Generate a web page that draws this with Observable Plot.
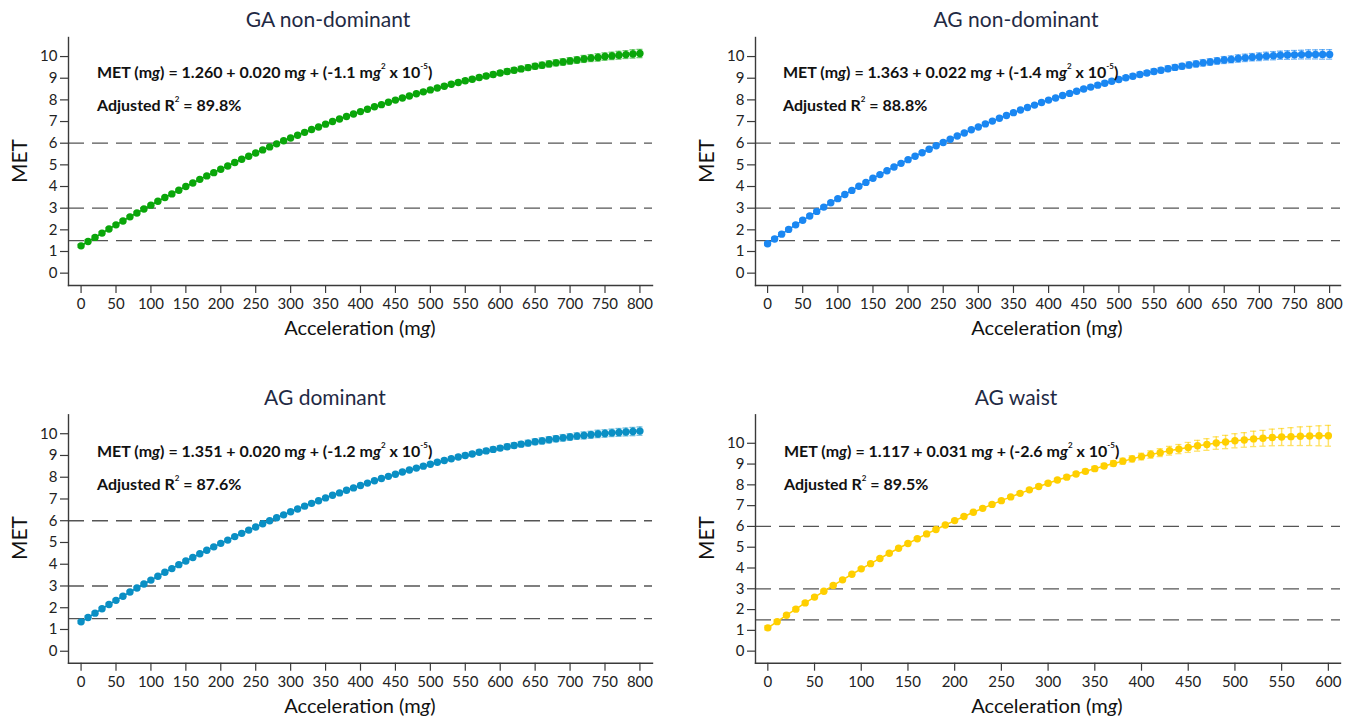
<!DOCTYPE html>
<html><head><meta charset="utf-8">
<script src="https://cdn.jsdelivr.net/npm/d3@7"></script>
<script src="https://cdn.jsdelivr.net/npm/@observablehq/plot@0.6"></script>
<style>
html,body{margin:0;padding:0;background:#fff;overflow:hidden;}
#root{position:relative;width:1352px;height:716px;font-family:Lato,"Open Sans",sans-serif;}
.svgwrap{position:absolute;}
.title{position:absolute;font-size:21px;line-height:26px;color:#1f2a44;transform:translateX(-50%);white-space:nowrap;}
.eq{position:absolute;font-size:16px;line-height:29px;font-weight:bold;color:#111;white-space:nowrap;}
.eq sup{font-size:8px;vertical-align:0;position:relative;top:-9px;}
.met{position:absolute;font-size:21px;line-height:24px;color:#111;transform:translate(-50%,-50%) rotate(-90deg);white-space:nowrap;}
.acc{position:absolute;font-size:20px;line-height:24px;color:#111;transform:translate(-50%,-50%);white-space:nowrap;}
</style></head>
<body><div id="root"></div>
<script>
// ---------- data ----------
const accel800 = [0,10,20,30,40,50,60,70,80,90,100,110,120,130,140,150,160,170,180,190,200,210,220,230,240,250,260,270,280,290,300,310,320,330,340,350,360,370,380,390,400,410,420,430,440,450,460,470,480,490,500,510,520,530,540,550,560,570,580,590,600,610,620,630,640,650,660,670,680,690,700,710,720,730,740,750,760,770,780,790,800];
const accel600 = [0,10,20,30,40,50,60,70,80,90,100,110,120,130,140,150,160,170,180,190,200,210,220,230,240,250,260,270,280,290,300,310,320,330,340,350,360,370,380,390,400,410,420,430,440,450,460,470,480,490,500,510,520,530,540,550,560,570,580,590,600];

const metGAnd = [1.26,1.46,1.65,1.85,2.04,2.23,2.41,2.60,2.78,2.96,
3.14,3.32,3.49,3.66,3.83,4.00,4.16,4.33,4.49,4.64,
4.80,4.95,5.11,5.26,5.40,5.55,5.69,5.83,5.97,6.11,
6.24,6.37,6.50,6.63,6.75,6.88,7.00,7.12,7.23,7.35,
7.46,7.57,7.68,7.78,7.89,7.99,8.09,8.18,8.28,8.37,
8.46,8.55,8.63,8.72,8.80,8.88,8.95,9.03,9.10,9.17,
9.24,9.31,9.37,9.43,9.49,9.55,9.60,9.66,9.71,9.75,
9.80,9.84,9.89,9.93,9.96,10.00,10.03,10.06,10.09,10.12,
10.14];
const metAGnd = [1.36,1.58,1.80,2.02,2.23,2.44,2.64,2.85,3.05,3.25,
3.44,3.63,3.82,4.01,4.19,4.38,4.55,4.73,4.90,5.07,
5.24,5.40,5.56,5.72,5.88,6.03,6.18,6.33,6.47,6.62,
6.75,6.89,7.02,7.15,7.28,7.41,7.53,7.65,7.76,7.88,
7.99,8.09,8.20,8.30,8.40,8.50,8.59,8.68,8.77,8.86,
8.94,9.02,9.09,9.17,9.24,9.31,9.37,9.44,9.50,9.55,
9.61,9.66,9.71,9.75,9.80,9.84,9.87,9.91,9.94,9.97,
9.99,10.02,10.04,10.06,10.07,10.08,10.09,10.10,10.10,10.10,
10.10];
const metAGd = [1.35,1.55,1.75,1.95,2.15,2.34,2.53,2.72,2.91,3.09,
3.27,3.45,3.63,3.80,3.98,4.15,4.31,4.48,4.64,4.80,
4.96,5.11,5.27,5.42,5.57,5.71,5.86,6.00,6.14,6.27,
6.41,6.54,6.67,6.80,6.92,7.05,7.17,7.28,7.40,7.51,
7.62,7.73,7.84,7.94,8.04,8.14,8.24,8.33,8.42,8.51,
8.60,8.69,8.77,8.85,8.93,9.00,9.07,9.15,9.21,9.28,
9.34,9.40,9.46,9.52,9.57,9.63,9.67,9.72,9.77,9.81,
9.85,9.89,9.92,9.95,9.99,10.01,10.04,10.06,10.08,10.10,
10.12];
const metAGwaist = [1.12,1.42,1.73,2.02,2.32,2.60,2.88,3.16,3.43,3.70,
3.96,4.21,4.46,4.71,4.95,5.18,5.41,5.64,5.85,6.07,
6.28,6.48,6.68,6.87,7.06,7.24,7.42,7.59,7.76,7.92,
8.08,8.23,8.37,8.52,8.65,8.78,8.91,9.03,9.14,9.25,
9.36,9.46,9.55,9.64,9.72,9.80,9.88,9.94,10.01,10.06,
10.12,10.16,10.21,10.24,10.28,10.30,10.32,10.34,10.35,10.36,
10.36];

const errGAnd = [0.07,0.07,0.06,0.06,0.06,0.05,0.05,0.05,0.05,0.04,
0.04,0.04,0.04,0.04,0.04,0.04,0.04,0.04,0.04,0.04,
0.04,0.04,0.04,0.04,0.04,0.04,0.04,0.04,0.04,0.04,
0.04,0.04,0.04,0.04,0.05,0.05,0.05,0.05,0.05,0.05,
0.05,0.06,0.06,0.06,0.06,0.07,0.07,0.07,0.07,0.08,
0.08,0.08,0.09,0.09,0.09,0.10,0.10,0.10,0.11,0.11,
0.11,0.12,0.12,0.12,0.13,0.13,0.14,0.14,0.14,0.15,
0.15,0.15,0.16,0.16,0.17,0.17,0.17,0.18,0.18,0.19,
0.19];
const errAGnd = [0.08,0.07,0.07,0.06,0.06,0.06,0.05,0.05,0.05,0.05,
0.05,0.05,0.04,0.04,0.04,0.04,0.04,0.04,0.04,0.04,
0.04,0.04,0.04,0.04,0.04,0.04,0.04,0.05,0.05,0.05,
0.05,0.05,0.05,0.05,0.05,0.06,0.06,0.06,0.06,0.07,
0.07,0.07,0.07,0.08,0.08,0.08,0.09,0.09,0.09,0.10,
0.10,0.10,0.11,0.11,0.11,0.12,0.12,0.13,0.13,0.13,
0.14,0.14,0.15,0.15,0.15,0.16,0.16,0.17,0.17,0.17,
0.18,0.18,0.19,0.19,0.20,0.20,0.20,0.21,0.21,0.22,
0.22];
const errAGd = [0.07,0.07,0.06,0.06,0.06,0.05,0.05,0.05,0.05,0.04,
0.04,0.04,0.04,0.04,0.04,0.04,0.04,0.04,0.04,0.04,
0.04,0.04,0.04,0.04,0.04,0.04,0.04,0.04,0.04,0.04,
0.04,0.04,0.04,0.04,0.05,0.05,0.05,0.05,0.05,0.05,
0.05,0.06,0.06,0.06,0.06,0.07,0.07,0.07,0.07,0.08,
0.08,0.08,0.09,0.09,0.09,0.10,0.10,0.10,0.11,0.11,
0.11,0.12,0.12,0.12,0.13,0.13,0.14,0.14,0.14,0.15,
0.15,0.15,0.16,0.16,0.17,0.17,0.17,0.18,0.18,0.19,
0.19];
const errAGwaist = [0.10,0.09,0.08,0.08,0.07,0.07,0.06,0.06,0.06,0.05,
0.05,0.05,0.05,0.05,0.05,0.05,0.05,0.05,0.05,0.05,
0.05,0.05,0.05,0.06,0.06,0.06,0.06,0.07,0.07,0.08,
0.08,0.08,0.09,0.09,0.10,0.11,0.12,0.13,0.14,0.15,
0.16,0.18,0.19,0.21,0.22,0.24,0.26,0.28,0.30,0.32,
0.34,0.35,0.37,0.38,0.40,0.41,0.43,0.45,0.46,0.48,
0.50];

const xTicks800 = [0,50,100,150,200,250,300,350,400,450,500,550,600,650,700,750,800];
const xTicks600 = [0,50,100,150,200,250,300,350,400,450,500,550,600];
const yTicks = [0,1,2,3,4,5,6,7,8,9,10];
const refLines = [1.5,3,6];

const titles = ["GA non-dominant","AG non-dominant","AG dominant","AG waist"];
const intercepts = ["1.260","1.363","1.351","1.117"];
const linearTerms = ["0.020","0.022","0.020","0.031"];
const quadTerms = ["-1.1","-1.4","-1.2","-2.6"];
const adjR2 = ["89.8%","88.8%","87.6%","89.5%"];
const colors = ["#0aa60a","#1a87f2","#0a8fc4","#ffcf00"];

// ---------- layout ----------
const layouts = [
  {left:0,  top:0,   w:676,h:378,mt:37,  mb:93,  ml:68,mr:24,xd:[-18,818],   yd:[-0.57,10.88],cap:4.3,titleX:328, titleY:6,  eqX:97, eqY:57, metX:19, metY:161,accX:360, accY:327},
  {left:676,top:0,   w:676,h:378,mt:37,  mb:93,  ml:79,mr:12,xd:[-17.2,815.5],yd:[-0.57,10.88],cap:4.3,titleX:1016,titleY:6,  eqX:783,eqY:57, metX:706,metY:161,accX:1047,accY:327},
  {left:0,  top:378, w:676,h:338,mt:36.3,mb:53.3,ml:68,mr:24,xd:[-18,818],   yd:[-0.55,10.87],cap:4.3,titleX:325, titleY:384,eqX:97, eqY:436,metX:19, metY:538,accX:360, accY:705},
  {left:676,top:378, w:676,h:338,mt:36.3,mb:53.3,ml:79,mr:12,xd:[-13.2,613], yd:[-0.58,11.37],cap:3.3,titleX:1016,titleY:384,eqX:784,eqY:436,metX:706,metY:538,accX:1047,accY:705}
];
const series = [
  {x:accel800,y:metGAnd,   e:errGAnd,   ticks:xTicks800},
  {x:accel800,y:metAGnd,   e:errAGnd,   ticks:xTicks800},
  {x:accel800,y:metAGd,    e:errAGd,    ticks:xTicks800},
  {x:accel600,y:metAGwaist,e:errAGwaist,ticks:xTicks600}
];

const root = document.getElementById("root");
function addDiv(cls, html, x, y){
  const d = document.createElement("div");
  d.className = cls; d.innerHTML = html;
  d.style.left = x + "px"; d.style.top = y + "px";
  root.appendChild(d);
}

series.forEach((s, i) => {
  const L = layouts[i];
  const color = colors[i];
  const data = s.x.map((x, j) => ({x, y: s.y[j], e: s.e[j]}));
  const chart = Plot.plot({
    width: L.w, height: L.h,
    marginTop: L.mt, marginBottom: L.mb, marginLeft: L.ml, marginRight: L.mr,
    x: {domain: L.xd},
    y: {domain: L.yd},
    style: {fontFamily: "Lato, 'Open Sans', sans-serif", fontSize: "15px", color: "#222", background: "transparent", overflow: "visible"},
    marks: [
      Plot.ruleY(refLines, {stroke: "#555", strokeWidth: 1.3, strokeDasharray: "16,8"}),
      Plot.frame({anchor: "left", stroke: "#3a3a3a", strokeWidth: 1.4}),
      Plot.frame({anchor: "bottom", stroke: "#3a3a3a", strokeWidth: 1.4}),
      Plot.axisY(yTicks, {tickSize: 8, tickPadding: 3, label: null, stroke: "#3a3a3a", strokeWidth: 1.2, fill: "#222"}),
      Plot.axisX(s.ticks, {tickSize: 8, tickPadding: 5, label: null, stroke: "#3a3a3a", strokeWidth: 1.2, fill: "#222"}),
      Plot.line(data, {x: "x", y: "y", stroke: color, strokeWidth: 1.5}),
      Plot.ruleX(data, {x: "x", y1: d => d.y - d.e, y2: d => d.y + d.e, stroke: color, strokeOpacity: 0.6, strokeWidth: 1.5}),
      Plot.ruleY(data, {y: d => d.y + d.e, x1: d => d.x - L.cap, x2: d => d.x + L.cap, stroke: color, strokeOpacity: 0.6, strokeWidth: 1.3}),
      Plot.ruleY(data, {y: d => d.y - d.e, x1: d => d.x - L.cap, x2: d => d.x + L.cap, stroke: color, strokeOpacity: 0.6, strokeWidth: 1.3}),
      Plot.dot(data, {x: "x", y: "y", r: 3.7, fill: color, stroke: "none"})
    ]
  });
  const wrap = document.createElement("div");
  wrap.className = "svgwrap";
  wrap.style.left = L.left + "px"; wrap.style.top = L.top + "px";
  wrap.appendChild(chart);
  root.appendChild(wrap);

  addDiv("title", titles[i], L.titleX, L.titleY);
  addDiv("eq",
    `MET (m<i>g</i>) = ${intercepts[i]} + ${linearTerms[i]} m<i>g</i> + (${quadTerms[i]} m<i>g</i><sup>2</sup> x 10<sup>-5</sup>)<br>Adjusted R<sup>2</sup> = ${adjR2[i]}`,
    L.eqX, L.eqY);
  addDiv("met", "MET", L.metX, L.metY);
  addDiv("acc", "Acceleration (m<i>g</i>)", L.accX, L.accY);
});
</script>
</body></html>
